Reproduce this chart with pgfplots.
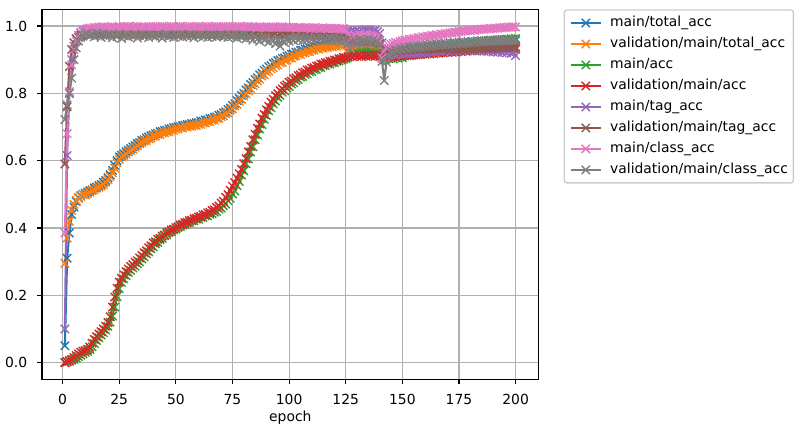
\documentclass[border=0pt]{standalone}
\usepackage{fontspec}
\setmainfont{DejaVu Sans}
\usepackage{pgfplots}
\usepackage{pgfplotstable}
\pgfplotsset{compat=1.18}
\definecolor{c0}{HTML}{1F77B4}
\definecolor{c1}{HTML}{FF7F0E}
\definecolor{c2}{HTML}{2CA02C}
\definecolor{c3}{HTML}{D62728}
\definecolor{c4}{HTML}{9467BD}
\definecolor{c5}{HTML}{8C564B}
\definecolor{c6}{HTML}{E377C2}
\definecolor{c7}{HTML}{7F7F7F}
\definecolor{gridc}{HTML}{B0B0B0}
\definecolor{legc}{HTML}{CCCCCC}

\pgfplotstableread{
e ta vta a va tg vtg c vc
1 0.050 0.295 0.000 0.000 0.100 0.590 0.385 0.722
2 0.310 0.370 0.002 0.003 0.615 0.760 0.680 0.765
3 0.385 0.420 0.004 0.006 0.800 0.880 0.805 0.800
4 0.440 0.452 0.007 0.010 0.900 0.930 0.885 0.845
5 0.462 0.470 0.010 0.015 0.940 0.950 0.930 0.900
6 0.478 0.482 0.014 0.021 0.962 0.962 0.955 0.935
7 0.490 0.488 0.018 0.026 0.972 0.966 0.972 0.955
8 0.496 0.494 0.022 0.031 0.978 0.972 0.981 0.966
9 0.500 0.499 0.026 0.034 0.984 0.970 0.986 0.972
10 0.503 0.498 0.030 0.036 0.986 0.976 0.989 0.975
11 0.507 0.502 0.033 0.039 0.988 0.978 0.992 0.978
12 0.511 0.506 0.039 0.046 0.990 0.974 0.994 0.971
13 0.513 0.511 0.047 0.058 0.989 0.979 0.993 0.976
14 0.519 0.514 0.057 0.069 0.991 0.976 0.996 0.968
15 0.521 0.518 0.066 0.077 0.992 0.980 0.995 0.979
16 0.526 0.521 0.074 0.085 0.990 0.977 0.997 0.973
17 0.529 0.525 0.082 0.092 0.993 0.975 0.996 0.966
18 0.536 0.529 0.089 0.100 0.992 0.979 0.998 0.977
19 0.541 0.536 0.097 0.108 0.991 0.976 0.995 0.970
20 0.549 0.543 0.108 0.119 0.993 0.978 0.997 0.975
21 0.558 0.553 0.120 0.136 0.992 0.975 0.996 0.972
22 0.571 0.564 0.138 0.165 0.994 0.979 0.998 0.965
23 0.586 0.578 0.165 0.195 0.991 0.976 0.995 0.974
24 0.600 0.594 0.196 0.221 0.993 0.972 0.997 0.968
25 0.611 0.604 0.220 0.239 0.992 0.978 0.999 0.977
26 0.616 0.611 0.238 0.250 0.994 0.975 0.996 0.963
27 0.621 0.615 0.249 0.261 0.993 0.979 0.998 0.971
28 0.627 0.620 0.258 0.270 0.991 0.974 0.997 0.975
29 0.631 0.626 0.268 0.278 0.994 0.977 0.999 0.967
30 0.636 0.630 0.274 0.286 0.993 0.975 0.996 0.973
31 0.641 0.634 0.281 0.291 0.992 0.978 0.998 0.970
32 0.645 0.640 0.286 0.298 0.994 0.973 0.997 0.976
33 0.651 0.644 0.294 0.303 0.993 0.977 0.999 0.964
34 0.654 0.650 0.299 0.311 0.991 0.975 0.996 0.972
35 0.660 0.654 0.308 0.318 0.994 0.979 0.998 0.975
36 0.662 0.658 0.314 0.326 0.992 0.974 0.997 0.969
37 0.667 0.660 0.323 0.332 0.993 0.977 0.995 0.973
38 0.670 0.665 0.329 0.341 0.994 0.976 0.998 0.966
39 0.674 0.667 0.338 0.347 0.992 0.978 0.997 0.974
40 0.676 0.672 0.344 0.356 0.993 0.973 0.999 0.971
41 0.680 0.673 0.353 0.359 0.994 0.977 0.997 0.968
42 0.681 0.678 0.357 0.366 0.992 0.975 0.998 0.975
43 0.686 0.678 0.365 0.369 0.993 0.979 0.996 0.970
44 0.687 0.682 0.369 0.376 0.991 0.976 0.999 0.964
45 0.690 0.683 0.377 0.379 0.994 0.974 0.997 0.973
46 0.690 0.686 0.380 0.386 0.993 0.978 0.998 0.976
47 0.694 0.686 0.387 0.388 0.992 0.975 0.996 0.969
48 0.695 0.690 0.389 0.394 0.994 0.977 0.999 0.972
49 0.698 0.690 0.395 0.396 0.993 0.973 0.997 0.966
50 0.699 0.694 0.397 0.401 0.992 0.978 0.998 0.974
51 0.701 0.694 0.402 0.403 0.994 0.976 0.997 0.970
52 0.701 0.698 0.404 0.409 0.993 0.974 0.999 0.975
53 0.704 0.697 0.409 0.411 0.991 0.978 0.996 0.967
54 0.705 0.701 0.410 0.416 0.994 0.975 0.998 0.973
55 0.707 0.700 0.415 0.417 0.992 0.977 0.997 0.969
56 0.707 0.703 0.416 0.422 0.993 0.974 0.999 0.976
57 0.710 0.702 0.421 0.423 0.994 0.979 0.996 0.971
58 0.710 0.705 0.421 0.428 0.992 0.976 0.998 0.965
59 0.713 0.704 0.426 0.429 0.993 0.975 0.997 0.973
60 0.713 0.708 0.426 0.433 0.994 0.978 0.999 0.970
61 0.717 0.708 0.431 0.434 0.992 0.975 0.997 0.974
62 0.717 0.712 0.431 0.439 0.993 0.977 0.998 0.968
63 0.721 0.712 0.436 0.440 0.994 0.973 0.996 0.972
64 0.721 0.716 0.436 0.445 0.991 0.978 0.999 0.966
65 0.725 0.716 0.441 0.446 0.993 0.976 0.997 0.975
66 0.725 0.720 0.442 0.452 0.994 0.974 0.998 0.969
67 0.729 0.720 0.447 0.454 0.992 0.978 0.996 0.973
68 0.730 0.725 0.449 0.461 0.993 0.975 0.999 0.967
69 0.735 0.726 0.456 0.465 0.994 0.977 0.997 0.971
70 0.737 0.731 0.459 0.474 0.992 0.973 0.998 0.975
71 0.742 0.733 0.466 0.479 0.993 0.978 0.996 0.968
72 0.745 0.739 0.471 0.491 0.994 0.975 0.998 0.972
73 0.752 0.742 0.481 0.499 0.991 0.977 0.997 0.966
74 0.756 0.750 0.488 0.512 0.993 0.974 0.999 0.973
75 0.764 0.754 0.501 0.524 0.994 0.978 0.996 0.969
76 0.769 0.762 0.510 0.535 0.992 0.976 0.998 0.975
77 0.778 0.767 0.526 0.548 0.993 0.973 0.997 0.964
78 0.784 0.776 0.538 0.561 0.994 0.977 0.999 0.971
79 0.794 0.782 0.557 0.574 0.992 0.975 0.996 0.967
80 0.800 0.792 0.570 0.591 0.993 0.978 0.998 0.973
81 0.810 0.798 0.591 0.606 0.994 0.974 0.997 0.962
82 0.816 0.808 0.605 0.626 0.992 0.977 0.999 0.970
83 0.826 0.814 0.626 0.642 0.993 0.975 0.996 0.965
84 0.832 0.823 0.641 0.662 0.994 0.973 0.998 0.958
85 0.841 0.828 0.662 0.678 0.991 0.977 0.997 0.968
86 0.846 0.837 0.676 0.696 0.993 0.974 0.995 0.961
87 0.855 0.842 0.694 0.709 0.994 0.976 0.998 0.955
88 0.860 0.851 0.707 0.726 0.992 0.972 0.996 0.966
89 0.868 0.855 0.723 0.737 0.993 0.975 0.997 0.959
90 0.872 0.863 0.734 0.751 0.991 0.977 0.995 0.963
91 0.879 0.866 0.748 0.761 0.993 0.973 0.997 0.952
92 0.882 0.873 0.757 0.774 0.992 0.976 0.996 0.961
93 0.889 0.876 0.769 0.782 0.994 0.974 0.998 0.956
94 0.891 0.882 0.777 0.793 0.991 0.977 0.995 0.947
95 0.897 0.884 0.788 0.799 0.993 0.972 0.997 0.960
96 0.899 0.890 0.794 0.808 0.992 0.975 0.996 0.940
97 0.904 0.892 0.803 0.813 0.994 0.973 0.998 0.958
98 0.905 0.898 0.808 0.821 0.991 0.976 0.995 0.951
99 0.910 0.899 0.816 0.825 0.993 0.974 0.997 0.962
100 0.912 0.904 0.820 0.833 0.992 0.971 0.996 0.955
101 0.916 0.905 0.828 0.836 0.990 0.975 0.995 0.963
102 0.917 0.910 0.831 0.843 0.992 0.972 0.997 0.957
103 0.922 0.911 0.838 0.846 0.991 0.976 0.994 0.965
104 0.923 0.916 0.841 0.853 0.993 0.973 0.996 0.959
105 0.928 0.916 0.848 0.855 0.990 0.975 0.995 0.964
106 0.928 0.920 0.850 0.861 0.992 0.971 0.993 0.956
107 0.932 0.920 0.856 0.863 0.991 0.974 0.996 0.962
108 0.932 0.924 0.858 0.869 0.993 0.972 0.994 0.958
109 0.936 0.924 0.864 0.870 0.990 0.975 0.995 0.965
110 0.936 0.928 0.865 0.875 0.992 0.970 0.993 0.960
111 0.940 0.928 0.870 0.876 0.991 0.974 0.995 0.957
112 0.939 0.932 0.871 0.881 0.989 0.971 0.993 0.963
113 0.943 0.931 0.876 0.882 0.992 0.973 0.994 0.959
114 0.942 0.935 0.877 0.887 0.990 0.970 0.992 0.965
115 0.945 0.934 0.882 0.887 0.991 0.974 0.995 0.956
116 0.944 0.937 0.883 0.891 0.989 0.971 0.993 0.962
117 0.947 0.936 0.887 0.891 0.992 0.969 0.991 0.958
118 0.946 0.939 0.887 0.895 0.990 0.973 0.994 0.963
119 0.949 0.938 0.891 0.895 0.988 0.970 0.992 0.955
120 0.948 0.941 0.891 0.899 0.991 0.972 0.993 0.961
121 0.951 0.940 0.895 0.899 0.989 0.969 0.991 0.957
122 0.950 0.943 0.896 0.903 0.990 0.972 0.993 0.962
123 0.953 0.942 0.899 0.903 0.988 0.968 0.990 0.954
124 0.952 0.945 0.901 0.907 0.991 0.971 0.992 0.960
125 0.954 0.944 0.903 0.906 0.989 0.967 0.989 0.956
126 0.948 0.940 0.906 0.909 0.987 0.962 0.975 0.948
127 0.940 0.935 0.912 0.911 0.984 0.955 0.935 0.932
128 0.942 0.933 0.918 0.909 0.986 0.958 0.968 0.951
129 0.938 0.930 0.915 0.912 0.983 0.954 0.972 0.958
130 0.941 0.933 0.920 0.910 0.987 0.957 0.969 0.949
131 0.937 0.929 0.916 0.913 0.984 0.953 0.974 0.960
132 0.942 0.932 0.921 0.909 0.988 0.958 0.966 0.946
133 0.939 0.930 0.917 0.912 0.985 0.955 0.971 0.957
134 0.943 0.934 0.922 0.910 0.989 0.959 0.975 0.952
135 0.938 0.929 0.918 0.913 0.986 0.954 0.968 0.961
136 0.941 0.932 0.921 0.911 0.988 0.957 0.973 0.947
137 0.936 0.930 0.917 0.914 0.985 0.953 0.970 0.958
138 0.940 0.933 0.920 0.910 0.987 0.956 0.966 0.950
139 0.937 0.929 0.916 0.912 0.983 0.952 0.969 0.955
140 0.935 0.928 0.914 0.909 0.978 0.948 0.955 0.942
141 0.925 0.920 0.910 0.905 0.950 0.932 0.905 0.895
142 0.902 0.906 0.900 0.901 0.918 0.912 0.925 0.838
143 0.918 0.914 0.905 0.906 0.905 0.925 0.936 0.893
144 0.922 0.918 0.903 0.908 0.912 0.928 0.942 0.912
145 0.925 0.920 0.906 0.911 0.915 0.925 0.945 0.925
146 0.923 0.918 0.902 0.909 0.918 0.929 0.948 0.921
147 0.927 0.922 0.906 0.912 0.913 0.926 0.951 0.930
148 0.925 0.919 0.904 0.910 0.916 0.930 0.950 0.926
149 0.928 0.923 0.908 0.913 0.919 0.927 0.954 0.933
150 0.927 0.921 0.906 0.911 0.915 0.931 0.956 0.929
151 0.930 0.924 0.911 0.914 0.920 0.928 0.958 0.936
152 0.929 0.922 0.914 0.912 0.917 0.932 0.957 0.932
153 0.932 0.925 0.912 0.915 0.921 0.929 0.961 0.938
154 0.931 0.923 0.916 0.913 0.918 0.933 0.960 0.934
155 0.934 0.926 0.914 0.916 0.922 0.930 0.963 0.940
156 0.932 0.924 0.918 0.914 0.919 0.934 0.962 0.936
157 0.935 0.927 0.916 0.917 0.923 0.931 0.966 0.941
158 0.934 0.925 0.920 0.915 0.920 0.935 0.964 0.937
159 0.937 0.928 0.918 0.918 0.924 0.932 0.968 0.943
160 0.935 0.926 0.922 0.916 0.921 0.936 0.967 0.939
161 0.938 0.929 0.921 0.919 0.925 0.930 0.970 0.944
162 0.937 0.927 0.925 0.917 0.922 0.934 0.969 0.940
163 0.940 0.930 0.923 0.920 0.926 0.931 0.972 0.946
164 0.938 0.928 0.927 0.918 0.923 0.935 0.971 0.942
165 0.941 0.931 0.926 0.921 0.927 0.932 0.974 0.947
166 0.940 0.929 0.929 0.919 0.924 0.936 0.973 0.943
167 0.943 0.932 0.928 0.922 0.928 0.933 0.976 0.948
168 0.941 0.930 0.931 0.920 0.925 0.935 0.975 0.944
169 0.944 0.933 0.930 0.923 0.929 0.933 0.978 0.949
170 0.943 0.931 0.934 0.921 0.926 0.936 0.977 0.945
171 0.945 0.933 0.933 0.924 0.929 0.929 0.980 0.950
172 0.944 0.931 0.937 0.922 0.926 0.933 0.979 0.946
173 0.947 0.934 0.936 0.925 0.930 0.930 0.982 0.951
174 0.946 0.932 0.940 0.923 0.927 0.933 0.981 0.947
175 0.948 0.934 0.939 0.926 0.931 0.930 0.984 0.952
176 0.947 0.932 0.943 0.924 0.928 0.934 0.983 0.948
177 0.949 0.935 0.942 0.927 0.932 0.931 0.986 0.953
178 0.948 0.933 0.946 0.925 0.929 0.934 0.985 0.949
179 0.950 0.935 0.945 0.928 0.931 0.932 0.987 0.954
180 0.949 0.933 0.948 0.926 0.928 0.935 0.986 0.950
181 0.951 0.935 0.947 0.928 0.930 0.932 0.988 0.955
182 0.950 0.933 0.951 0.926 0.927 0.935 0.987 0.951
183 0.952 0.936 0.950 0.929 0.931 0.933 0.990 0.956
184 0.951 0.934 0.953 0.927 0.926 0.936 0.989 0.952
185 0.953 0.936 0.952 0.930 0.930 0.933 0.991 0.957
186 0.952 0.934 0.955 0.928 0.925 0.936 0.990 0.953
187 0.954 0.937 0.954 0.930 0.929 0.934 0.992 0.957
188 0.953 0.935 0.957 0.928 0.924 0.937 0.991 0.954
189 0.955 0.937 0.956 0.931 0.928 0.934 0.993 0.958
190 0.954 0.935 0.958 0.929 0.923 0.937 0.992 0.954
191 0.956 0.937 0.957 0.931 0.927 0.935 0.994 0.958
192 0.955 0.935 0.959 0.929 0.922 0.938 0.993 0.955
193 0.956 0.938 0.958 0.932 0.926 0.935 0.995 0.959
194 0.955 0.936 0.960 0.930 0.921 0.938 0.994 0.955
195 0.957 0.938 0.959 0.932 0.925 0.936 0.996 0.959
196 0.956 0.936 0.961 0.930 0.920 0.939 0.995 0.956
197 0.957 0.938 0.960 0.933 0.924 0.936 0.997 0.960
198 0.956 0.936 0.962 0.931 0.919 0.939 0.996 0.956
199 0.958 0.939 0.961 0.933 0.922 0.937 0.998 0.960
200 0.957 0.937 0.963 0.931 0.912 0.938 0.997 0.957
}\data

\begin{document}
\fontsize{10bp}{12bp}\selectfont
\begin{tikzpicture}
\path[use as bounding box] (-0.42in,-0.527in) rectangle (7.58in,3.793in);
\begin{axis}[
  at={(0,0)}, anchor=south west,
  scale only axis, width=4.967in, height=3.70in,
  xmin=-9.1, xmax=210.2, ymin=-0.0496, ymax=1.0496,
  xtick={0,25,50,75,100,125,150,175,200},
  xticklabels={0,25,50,75,100,125,150,175,200},
  ytick={0,0.2,0.4,0.6,0.8,1.0},
  yticklabels={0.0,0.2,0.4,0.6,0.8,1.0},
  tick pos=left, tick align=outside, major tick length=3.5bp,
  tick style={black, line width=0.8bp},
  axis line style={black, line width=0.8bp},
  grid=major, major grid style={gridc, line width=0.8bp},
  ticklabel style={font=\fontsize{10bp}{12bp}\selectfont, inner sep=0pt},
  xticklabel style={anchor=base, yshift=-14.9bp},
  yticklabel style={anchor=east, xshift=-7bp},
  xlabel={epoch},
  xlabel style={at={(axis description cs:0.5,0)}, anchor=base, inner sep=0pt, yshift=-30.2bp, font=\fontsize{10bp}{12bp}\selectfont},
  legend cell align=left,
  legend style={at={(1.05,1)}, anchor=north west, draw=legc, line width=1bp,
    rounded corners=2bp, fill=white, inner xsep=4bp, inner ysep=4.5bp,
    row sep=5.3bp, column sep=6bp, font=\fontsize{10bp}{12bp}\selectfont,
    nodes={inner sep=0pt, text height=7.6bp, text depth=2.2bp}},
  legend image code/.code={\draw[mark repeat=2,mark phase=2,rounded corners=0pt] plot coordinates {(0in,0in) (0.15in,0in) (0.3in,0in)};},
  every axis plot/.append style={line width=1.5bp, mark=x, mark size=4.24bp, mark options={line width=1bp, solid}, line join=round},
]
\addplot[c0] table[x=e,y=ta]{\data};
\addlegendentry{main/total\_acc}
\addplot[c1] table[x=e,y=vta]{\data};
\addlegendentry{validation/main/total\_acc}
\addplot[c2] table[x=e,y=a]{\data};
\addlegendentry{main/acc}
\addplot[c3] table[x=e,y=va]{\data};
\addlegendentry{validation/main/acc}
\addplot[c4] table[x=e,y=tg]{\data};
\addlegendentry{main/tag\_acc}
\addplot[c5] table[x=e,y=vtg]{\data};
\addlegendentry{validation/main/tag\_acc}
\addplot[c6] table[x=e,y=c]{\data};
\addlegendentry{main/class\_acc}
\addplot[c7] table[x=e,y=vc]{\data};
\addlegendentry{validation/main/class\_acc}
\end{axis}
\end{tikzpicture}
\end{document}
